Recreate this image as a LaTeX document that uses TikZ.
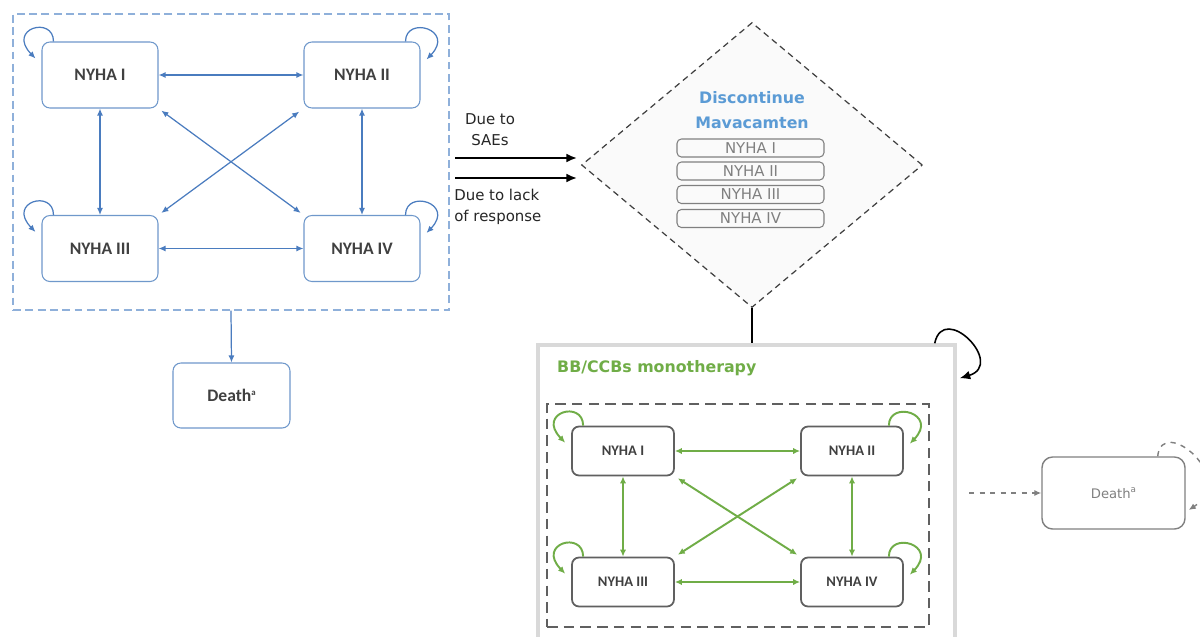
\documentclass[tikz,border=0pt]{standalone}
\usepackage{fontspec}
\setmainfont{DejaVu Sans}
\newfontfamily\carlito{Carlito}
\usetikzlibrary{arrows.meta,shapes.geometric,calc}

\definecolor{stateblue}{HTML}{4A7CBF}
\definecolor{boxblue}{HTML}{6F98CB}
\definecolor{frameblue}{HTML}{8FB0DA}
\definecolor{txtdark}{HTML}{404040}
\definecolor{bbgreen}{HTML}{70AD47}
\definecolor{titleblue}{HTML}{5B9BD5}
\definecolor{boxgrey}{HTML}{606060}
\definecolor{softgrey}{HTML}{808080}
\definecolor{panelgrey}{HTML}{D9D9D9}
\definecolor{diamondfill}{HTML}{FAFAFA}

% self-transition loops on the upper corners of a state box
\newcommand\loopleft[2]{\draw[#2] ($(#1.north west)+(12,0)$) .. controls +(0,26) and +(-29,30) .. ($(#1.north west)+(-6,-17)$);}
\newcommand\loopright[2]{\draw[#2] ($(#1.north east)+(-15,0)$) .. controls +(0,26) and +(29,30) .. ($(#1.north east)+(6,-18)$);}
% small superscript mark
\newcommand\supmark[1]{\raisebox{0.75ex}{\fontsize{5}{5}\selectfont #1}}

\begin{document}
\begin{tikzpicture}[x=0.02cm,y=0.02cm,
  bluestate/.style={draw=boxblue, line width=0.6pt, rounded corners=4.5pt,
    minimum width=2.32cm, minimum height=1.32cm, text=txtdark,
    font=\carlito\bfseries\fontsize{10}{12}\selectfont},
  bluelink/.style={stateblue, line width=0.7pt, {Latex[length=4pt,width=3.4pt]}-{Latex[length=4pt,width=3.4pt]}},
  blueloop/.style={stateblue, line width=0.7pt, -{Latex[length=4pt,width=3.4pt]}},
  greenstate/.style={draw=boxgrey, line width=1pt, rounded corners=4pt,
    minimum width=2.04cm, minimum height=0.98cm, text=txtdark,
    font=\carlito\bfseries\fontsize{8.3}{10}\selectfont},
  greenlink/.style={bbgreen, line width=1.1pt, {Latex[length=4pt,width=3.6pt]}-{Latex[length=4pt,width=3.6pt]}},
  greenloop/.style={bbgreen, line width=1.1pt, -{Latex[length=4pt,width=3.6pt]}},
  stopbox/.style={draw=softgrey, line width=0.6pt, rounded corners=2.5pt,
    minimum width=2.94cm, minimum height=0.36cm, inner sep=0pt, text=softgrey,
    font=\fontsize{8.5}{10}\selectfont},
  inarrow/.style={black, line width=1.1pt, -{Latex[length=6pt,width=5pt]}},
  labeltext/.style={text=black!85, font=\fontsize{8.5}{12}\selectfont, inner sep=0pt}
]
\clip (0,0) rectangle (1200,-636);
\fill[white] (0,0) rectangle (1200,-636);

% ---- mavacamten state model ----
\node[draw=frameblue, dash pattern=on 4.5pt off 2.5pt, line width=0.7pt,
      minimum width=8.72cm, minimum height=5.92cm] (frame) at (231,-162) {};
\node[bluestate] (b1) at (100,-75) {NYHA I};
\node[bluestate] (b2) at (362,-75) {NYHA II};
\node[bluestate] (b3) at (100,-248.5) {NYHA III};
\node[bluestate] (b4) at (362,-248.5) {NYHA IV};

\draw[bluelink] (b1) -- (b2);
\draw[bluelink] (b3) -- (b4);
\draw[bluelink] (b1) -- (b3);
\draw[bluelink] (b2) -- (b4);
\draw[bluelink, shorten <=2pt, shorten >=2pt] (b1.south east) -- (b4.north west);
\draw[bluelink, shorten <=3pt, shorten >=2pt] (b2.south west) -- (b3.north east);

\loopleft{b1}{blueloop}
\loopright{b2}{blueloop}
\loopleft{b3}{blueloop}
\loopright{b4}{blueloop}

\node[bluestate, minimum width=2.34cm, minimum height=1.3cm] (death1) at (231.5,-395.5) {Death\supmark{a}};
\draw[blueloop] (frame.south) -- (death1.north);

% ---- discontinuation ----
\coordinate (sae0) at (455,-158);
\coordinate (sae1) at (577,-158);
\coordinate (lack0) at (455,-178);
\coordinate (lack1) at (577,-178);
\draw[inarrow] (sae0) -- (sae1);
\draw[inarrow] (lack0) -- (lack1);
\node[labeltext, align=center] (lblsae) at (490,-129.5) {Due to\\SAEs};
\node[labeltext, align=left, anchor=west] (lbllack) at (454,-207) {Due to lack\\of response};

\node[diamond, draw=txtdark, dash pattern=on 3.5pt off 2.5pt, line width=0.7pt,
      fill=diamondfill, minimum width=6.82cm, minimum height=5.7cm, inner sep=0pt] (stop) at (752,-165) {};
\node[text=titleblue, font=\bfseries\fontsize{9}{14}\selectfont, align=center] (stoptitle) at (752,-110) {Discontinue\\Mavacamten};
\node[stopbox] (s1) at (750.5,-148) {NYHA I};
\node[stopbox] (s2) at (750.5,-171) {NYHA II};
\node[stopbox] (s3) at (750.5,-194.5) {NYHA III};
\node[stopbox] (s4) at (750.5,-218.5) {NYHA IV};

% ---- BB/CCBs monotherapy panel ----
\node[draw=panelgrey, line width=2pt, minimum width=8.34cm, minimum height=7.1cm] (panel) at (746.5,-522.5) {};
\draw[black, line width=1pt] (stop.south) -- (stop.south |- panel.north);
\node[anchor=west, text=bbgreen, font=\bfseries\fontsize{9}{11}\selectfont] (paneltitle) at (551,-368) {BB/CCBs monotherapy};
\draw[black, line width=0.9pt, -{Latex[length=6pt,width=5pt]}]
  ($(panel.north east)+(-22,0)$) .. controls +(9,42) and +(46,14) .. ($(panel.north east)+(3,-35)$);

\node[draw=boxgrey, dash pattern=on 6pt off 3.5pt, line width=0.9pt,
      minimum width=7.64cm, minimum height=4.46cm] (inner) at (738,-515.5) {};
\node[greenstate] (g1) at (623,-451) {NYHA I};
\node[greenstate] (g2) at (852,-451) {NYHA II};
\node[greenstate] (g3) at (623,-582) {NYHA III};
\node[greenstate] (g4) at (852,-582) {NYHA IV};

\draw[greenlink] (g1) -- (g2);
\draw[greenlink] (g3) -- (g4);
\draw[greenlink] (g1) -- (g3);
\draw[greenlink] (g2) -- (g4);
\draw[greenlink, shorten <=2pt, shorten >=2pt] (g1.south east) -- (g4.north west);
\draw[greenlink, shorten <=2pt, shorten >=2pt] (g2.south west) -- (g3.north east);

\loopleft{g1}{greenloop}
\loopright{g2}{greenloop}
\loopleft{g3}{greenloop}
\loopright{g4}{greenloop}

% ---- death after monotherapy ----
\node[draw=softgrey, line width=0.8pt, rounded corners=6pt, minimum width=2.86cm,
      minimum height=1.44cm, text=softgrey, font=\fontsize{7.5}{9}\selectfont] (death2) at (1113.5,-493) {Death\supmark{a}};
\coordinate (dashstart) at (969,-493);
\draw[softgrey, dashed, line width=0.8pt, -{Latex[length=4pt,width=3.5pt]}] (dashstart) -- (death2.west);
\draw[softgrey, dashed, line width=0.8pt, -{Latex[length=4pt,width=3.5pt]}]
  ($(death2.north east)+(-28,0)$) .. controls +(4,42) and +(50,32) .. ($(death2.east)+(3,-17)$);

\end{tikzpicture}
\end{document}
